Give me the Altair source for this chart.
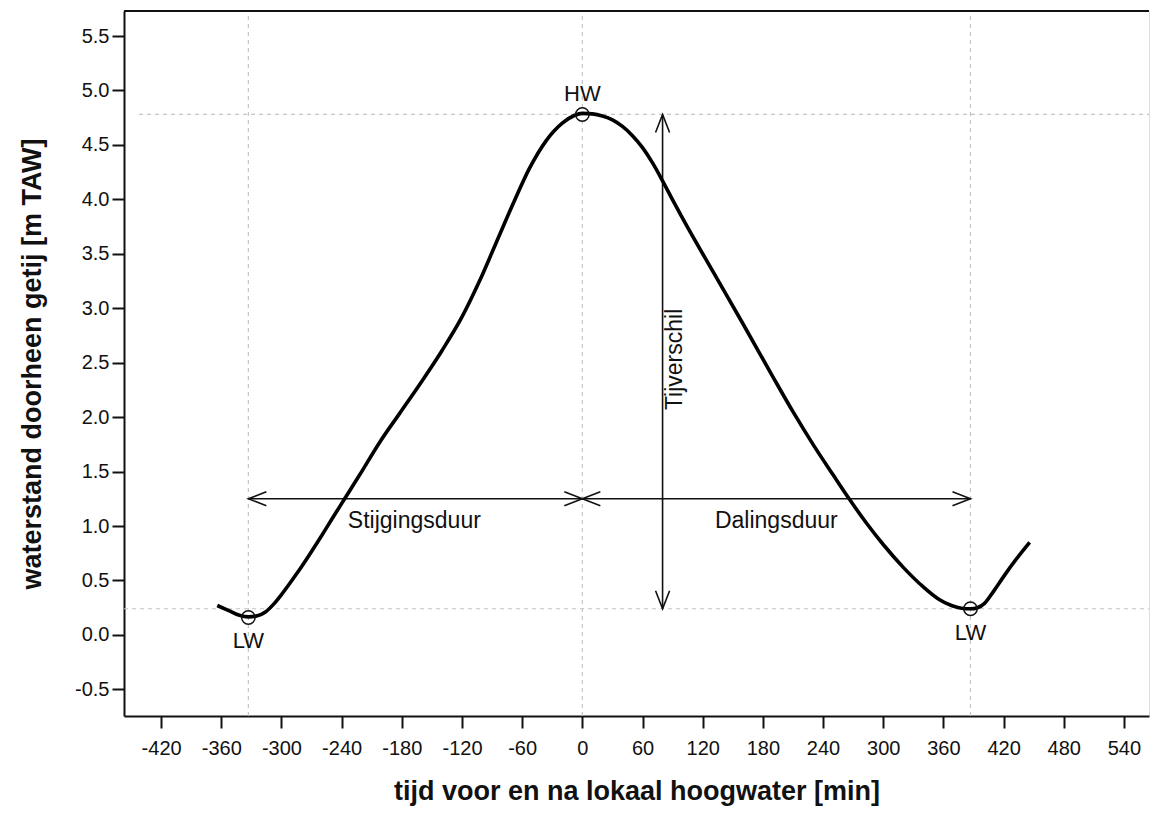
import altair as alt
import pandas as pd

# ---- data ----
t_min = [-364, -352, -342, -333, -324, -316, -308, -300, -290, -280, -270, -260, -250,
         -237, -222, -202, -182.5, -160, -140, -120, -103, -86, -69.5, -53, -36, -20,
         -8, 0, 10, 20, 30, 40, 50, 60, 70, 80, 90, 100, 130, 160, 190, 210, 230, 250, 266,
         283, 300, 320, 340, 355, 368, 378, 387, 394, 401, 410, 420, 433, 446]
level = [0.27, 0.22, 0.18, 0.165, 0.175, 0.21, 0.28, 0.37, 0.495, 0.625, 0.765, 0.91, 1.06,
         1.25, 1.47, 1.77, 2.03, 2.33, 2.61, 2.92, 3.24, 3.60, 3.95, 4.28, 4.54, 4.70,
         4.77, 4.79, 4.785, 4.765, 4.73, 4.67, 4.585, 4.475, 4.335, 4.17, 3.995, 3.825,
         3.34, 2.86, 2.37, 2.05, 1.75, 1.47, 1.25, 1.03, 0.83, 0.62, 0.44, 0.33, 0.27,
         0.245, 0.24, 0.25, 0.29, 0.40, 0.535, 0.70, 0.85]

extreme_t = [-333, 0, 387]
extreme_v = [0.16, 4.78, 0.24]
extreme_lbl = ["LW", "HW", "LW"]

x_ticks = list(range(-420, 541, 60))
y_ticks = [-0.5, 0.0, 0.5, 1.0, 1.5, 2.0, 2.5, 3.0, 3.5, 4.0, 4.5, 5.0, 5.5]
X_DOMAIN = [-457, 565]
Y_DOMAIN = [-0.745, 5.73]
W, H = 1025, 705

arrow_level = 1.25
arrow_x = 80
hw_level, lw_level = 4.78, 0.24

FONT = "Liberation Sans"

curve = pd.DataFrame({"t": t_min, "v": level})
ext = pd.DataFrame({"t": extreme_t, "v": extreme_v, "lbl": extreme_lbl})

xs = alt.Scale(domain=X_DOMAIN, nice=False, zero=False)
ys = alt.Scale(domain=Y_DOMAIN, nice=False, zero=False)

xax = alt.Axis(values=x_ticks, title="tijd voor en na lokaal hoogwater [min]", grid=False,
               labelExpr="datum.value < 0 ? '-' + format(abs(datum.value), 'd') : format(datum.value, 'd')",
               labelFontSize=20, labelFont=FONT, labelColor="#111", tickSize=12,
               tickWidth=2, tickColor="#111", domainWidth=2, domainColor="#111",
               labelPadding=10, titleFont=FONT, titleFontSize=27, titleFontWeight="bold",
               titleColor="#111", titlePadding=20, labelFlush=False)
yax = alt.Axis(values=y_ticks, title="waterstand doorheen getij [m TAW]",
               labelExpr="datum.value < 0 ? '-' + format(abs(datum.value), '.1f') : format(datum.value, '.1f')",
               grid=False, labelFontSize=20, labelFont=FONT, labelColor="#111",
               tickSize=12, tickWidth=2, tickColor="#111", domainWidth=2,
               domainColor="#111", labelPadding=3, titleFont=FONT, titleFontSize=27,
               titleFontWeight="bold", titleColor="#111", titlePadding=28)

base_x = lambda f="t": alt.X(f"{f}:Q", scale=xs, axis=xax)
base_y = lambda f="v": alt.Y(f"{f}:Q", scale=ys, axis=yax)

# dashed reference lines
vref = pd.DataFrame({"x": extreme_t, "y": [Y_DOMAIN[0]] * 3, "y2": [Y_DOMAIN[1]] * 3})
href = pd.DataFrame({"x": [-442, X_DOMAIN[0]], "x2": [X_DOMAIN[1], X_DOMAIN[1]],
                     "y": [hw_level, lw_level]})
vlines = alt.Chart(vref).mark_rule(color="#c4c4c4", strokeDash=[4, 4], strokeWidth=1.2).encode(
    x=base_x("x"), y=base_y("y"), y2="y2")
hlines = alt.Chart(href).mark_rule(color="#c4c4c4", strokeDash=[4, 4], strokeWidth=1.2).encode(
    x=base_x("x"), x2="x2", y=base_y("y"))

# arrows
arr = pd.DataFrame({"x": [extreme_t[0], 0, arrow_x], "x2": [0, extreme_t[2], arrow_x],
                    "y": [arrow_level, arrow_level, lw_level],
                    "y2": [arrow_level, arrow_level, hw_level]})
arrows = alt.Chart(arr).mark_rule(color="#111", strokeWidth=1.6).encode(
    x=base_x("x"), x2="x2", y=base_y("y"), y2="y2")
heads_df = pd.DataFrame({
    "x": [extreme_t[0], 0, 0, extreme_t[2], arrow_x, arrow_x],
    "y": [arrow_level, arrow_level, arrow_level, arrow_level, hw_level, lw_level],
    "ang": [180, 0, 180, 0, 270, 90]})
heads = alt.Chart(heads_df).mark_point(
    shape="M -1 -0.39 L 0 0 L -1 0.39", size=1296, filled=False, color="#111",
    strokeWidth=1.6, opacity=1).encode(
    x=base_x("x"), y=base_y("y"), angle=alt.Angle("ang:Q", scale=None))

line = alt.Chart(curve).mark_line(color="#000", strokeWidth=3.6, interpolate="monotone").encode(
    x=base_x(), y=base_y())

circles = alt.Chart(ext).mark_point(shape="circle", size=180, filled=False, color="#111",
                                    strokeWidth=1.5, opacity=1).encode(x=base_x(), y=base_y())
hw_txt = alt.Chart(ext[ext.lbl == "HW"]).mark_text(font=FONT, fontSize=22, dy=-13,
                                                    baseline="alphabetic", color="#111").encode(
    x=base_x(), y=base_y(), text="lbl")
lw_txt = alt.Chart(ext[ext.lbl == "LW"]).mark_text(font=FONT, fontSize=22, dy=31,
                                                    baseline="alphabetic", color="#111").encode(
    x=base_x(), y=base_y(), text="lbl")

ann = pd.DataFrame({"x": [-167.5, 193.4], "y": [1.05, 1.05], "txt": ["Stijgingsduur", "Dalingsduur"]})
ann_txt = alt.Chart(ann).mark_text(font=FONT, fontSize=23, baseline="middle", color="#111").encode(
    x=base_x("x"), y=base_y("y"), text="txt")
tv = pd.DataFrame({"x": [92], "y": [2.53], "txt": ["Tijverschil"]})
tv_txt = alt.Chart(tv).mark_text(font=FONT, fontSize=23, angle=270, baseline="middle",
                                 color="#111").encode(x=base_x("x"), y=base_y("y"), text="txt")

top_border = alt.Chart(pd.DataFrame({"a": [0]})).mark_rule(color="#111", strokeWidth=2).encode(
    x=alt.value(0), x2=alt.value(W), y=alt.value(0))

chart = alt.layer(vlines, hlines, arrows, heads, line, circles, hw_txt, lw_txt, ann_txt,
                  tv_txt, top_border).properties(
    width=W, height=H, padding={"left": 10, "top": 2, "right": 0, "bottom": 5}
).configure_view(stroke=None).configure(background="white")

chart.save("out.html", embed_options={"renderer": "svg", "actions": False})
